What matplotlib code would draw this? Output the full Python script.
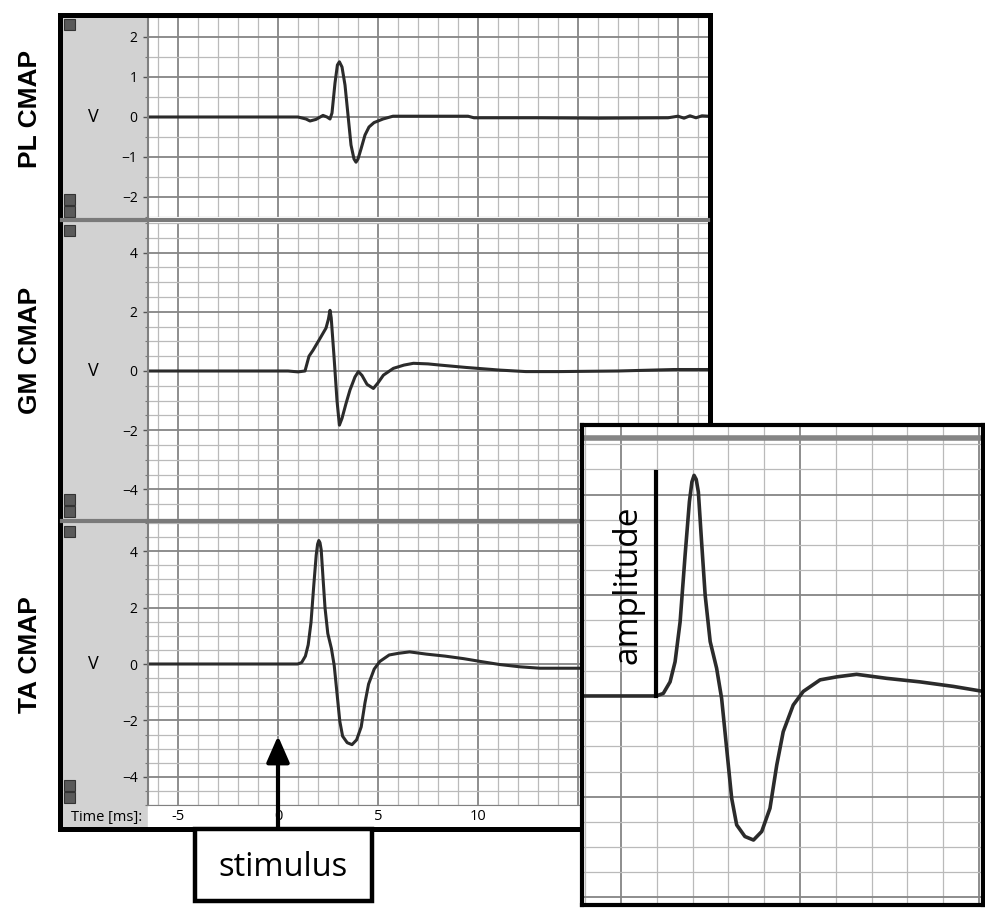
import matplotlib
matplotlib.use("Agg")
import matplotlib.pyplot as plt
from matplotlib.patches import Rectangle
from matplotlib.ticker import MultipleLocator

plt.rcParams['font.family'] = ['Open Sans', 'DejaVu Sans']

W, H = 985, 908

# traces (time in ms, signal in V)
pl_t = [-6.5, 0.0, 1.0, 1.4, 1.6, 1.9, 2.25, 2.45, 2.6, 2.7, 2.85, 2.97, 3.07,
        3.2, 3.35, 3.5, 3.65, 3.8, 3.9, 4.0, 4.15, 4.35, 4.55, 4.8, 5.25, 5.75,
        7.0, 9.5, 9.8, 13.0, 16.0, 19.5, 20.0, 20.3, 20.6, 20.9, 21.2, 21.5]
pl_v = [0.0, 0.0, 0.0, -0.05, -0.1, -0.06, 0.04, 0.0, -0.05, 0.1, 0.85, 1.3, 1.38,
        1.25, 0.8, 0.05, -0.7, -1.05, -1.13, -1.05, -0.8, -0.45, -0.25, -0.14, -0.05, 0.02,
        0.02, 0.02, -0.02, -0.02, -0.03, -0.02, 0.02, -0.03, 0.03, -0.02, 0.03, 0.02]

gm_t = [-6.5, 0.5, 1.0, 1.35, 1.55, 1.75, 2.1, 2.4, 2.52, 2.6, 2.66, 2.8, 2.95,
        3.07, 3.2, 3.4, 3.6, 3.85, 4.02, 4.2, 4.45, 4.77, 5.0, 5.27, 5.77, 6.3,
        6.77, 7.5, 8.1, 9.4, 11.1, 12.4, 14.0, 17.0, 19.8, 21.5]
gm_v = [0.0, 0.0, -0.03, 0.0, 0.5, 0.7, 1.1, 1.45, 1.75, 2.05, 1.8, 0.5, -1.0,
        -1.83, -1.6, -1.1, -0.64, -0.2, -0.02, -0.15, -0.45, -0.59, -0.4, -0.14, 0.09, 0.2,
        0.26, 0.24, 0.2, 0.12, 0.03, -0.02, -0.02, 0.0, 0.05, 0.05]

ta_t = [-6.5, 0.98, 1.18, 1.37, 1.51, 1.65, 1.79, 1.91, 1.98, 2.04, 2.1, 2.16,
        2.25, 2.35, 2.49, 2.67, 2.81, 2.95, 3.09, 3.23, 3.46, 3.7, 3.93, 4.16,
        4.35, 4.53, 4.81, 5.09, 5.56, 6.03, 6.58, 7.42, 8.35, 9.28, 10.12, 11.1,
        12.1, 13.1, 15.1, 18.0, 21.5]
ta_v = [0.0, 0.0, 0.05, 0.28, 0.68, 1.47, 2.8, 3.86, 4.25, 4.38, 4.3, 4.05,
        3.06, 2.0, 1.08, 0.55, -0.05, -1.04, -2.03, -2.56, -2.79, -2.86, -2.69, -2.23,
        -1.37, -0.71, -0.18, 0.09, 0.32, 0.38, 0.43, 0.35, 0.28, 0.19, 0.09, -0.02,
        -0.1, -0.15, -0.15, -0.15, -0.15]

x_ticks = [-5, 0, 5, 10, 15, 20]
x_labels = ['-5', '0', '5', '10', '', '']
row_names = ['PL CMAP', 'GM CMAP', 'TA CMAP']
stim_time = 0.0

fig = plt.figure(figsize=(W / 100, H / 100), dpi=100)


def px_axes(x0, y0, x1, y1):
    return fig.add_axes([x0 / W, 1 - y1 / H, (x1 - x0) / W, (y1 - y0) / H])


def grid_style(ax, ymajor):
    ax.xaxis.set_major_locator(MultipleLocator(5))
    ax.xaxis.set_minor_locator(MultipleLocator(1))
    ax.yaxis.set_major_locator(MultipleLocator(ymajor))
    ax.yaxis.set_minor_locator(MultipleLocator(0.5))
    ax.grid(which='major', color='#858585', lw=1.3)
    ax.grid(which='minor', color='#bababa', lw=0.9)
    ax.set_axisbelow(True)


# background: gray label strip and time row
bg = px_axes(0, 0, W, H)
bg.set_xlim(0, W)
bg.set_ylim(H, 0)
bg.axis('off')
bg.add_patch(Rectangle((62, 15), 86, 812, color='#d2d2d2'))
bg.add_patch(Rectangle((148, 805), 562, 22, color='white'))
bg.text(71, 817, 'Time [ms]:', fontsize=10.5, va='center', ha='left')
for top, bot in [(16, 219), (222, 519), (523, 805)]:
    bg.add_patch(Rectangle((64, top + 3), 11, 11, fc='#5a5a5a', ec='#333', lw=0.8))
    bg.add_patch(Rectangle((64, bot - 25), 11, 11, fc='#5a5a5a', ec='#333', lw=0.8))
    bg.add_patch(Rectangle((64, bot - 13), 11, 11, fc='#5a5a5a', ec='#333', lw=0.8))

panels = [
    (pl_t, pl_v, 17, 217, 2.5, 1),
    (gm_t, gm_v, 223, 519, 5.0, 2),
    (ta_t, ta_v, 523, 805, 5.0, 2),
]
label_y = [109, 350, 655]
axes = []
for i, (t, v, top, bot, ylim, ymajor) in enumerate(panels):
    ax = px_axes(148, top, 708, bot)
    ax.plot(t, v, color='#2b2b2b', lw=2.2, solid_joinstyle='round')
    ax.set_xlim(-6.5, 21.5)
    ax.set_ylim(-ylim, ylim)
    grid_style(ax, ymajor)
    for s in ['top', 'right', 'bottom']:
        ax.spines[s].set_visible(False)
    ax.spines['left'].set_color('#808080')
    ax.spines['left'].set_linewidth(1.5)
    ax.tick_params(axis='y', which='major', length=3.5, width=1, color='#555',
                   labelsize=10, pad=4)
    ax.tick_params(axis='y', which='minor', length=2, width=0.8, color='#777')
    ax.tick_params(axis='x', which='both', length=0)
    ax.set_ylabel('V', rotation=0, fontsize=13, va='center', ha='center')
    ax.yaxis.set_label_coords((93 - 148) / 560, 0.5)
    ax.set_xticks(x_ticks)
    if i == 2:
        ax.set_xticklabels(x_labels, fontsize=10.5)
        ax.tick_params(axis='x', pad=3)
        ax.spines['bottom'].set_visible(True)
        ax.spines['bottom'].set_color('#808080')
    else:
        ax.set_xticklabels([])
    fig.text(30 / W, 1 - label_y[i] / H, row_names[i], rotation=90,
             fontsize=19, fontweight='bold', ha='center', va='center',
             family=['Liberation Sans', 'DejaVu Sans'])
    axes.append(ax)

ax_ta = axes[2]
ax_ta.annotate('', xy=(stim_time, -2.55), xytext=(stim_time, H - 830),
               textcoords=('data', 'figure pixels'), annotation_clip=False,
               arrowprops=dict(arrowstyle='-|>,head_length=1.6,head_width=0.7',
                               lw=3, color='black', shrinkA=0, shrinkB=0))

# overlay: separators, frame, stimulus box
ov = px_axes(0, 0, W, H)
ov.set_xlim(0, W)
ov.set_ylim(H, 0)
ov.axis('off')
for y in [220, 521]:
    ov.plot([62, 708], [y, y], color='#7a7a7a', lw=3)
ov.add_patch(Rectangle((59.5, 14.5), 650.5, 814.5, fill=False, ec='black', lw=3.6))
ov.add_patch(Rectangle((195, 829), 177, 72, fc='white', ec='black', lw=3.2))
ov.text(283, 867, 'stimulus', fontsize=23.5, ha='center', va='center')

# zoomed inset of the TA response
ins = px_axes(582, 425, 983, 905)
ins.plot(ta_t, ta_v, color='#2b2b2b', lw=2.6, solid_joinstyle='round')
ins.set_xlim(-1.09, 10.11)
ins.set_ylim(-4.15, 5.38)
grid_style(ins, 2)
ins.axhline(5.12, color='#858585', lw=4)
ins.tick_params(which='both', length=0, labelleft=False, labelbottom=False)
for s in ins.spines.values():
    s.set_linewidth(3)
    s.set_color('black')
onset = ta_t[1]
ins.plot([onset, onset], [0, max(ta_v) + 0.06], color='black', lw=3)
ins.text(0.115, 0.667, 'amplitude', transform=ins.transAxes, rotation=90,
         fontsize=24, ha='center', va='center')

fig.savefig('out.png', dpi=100)
